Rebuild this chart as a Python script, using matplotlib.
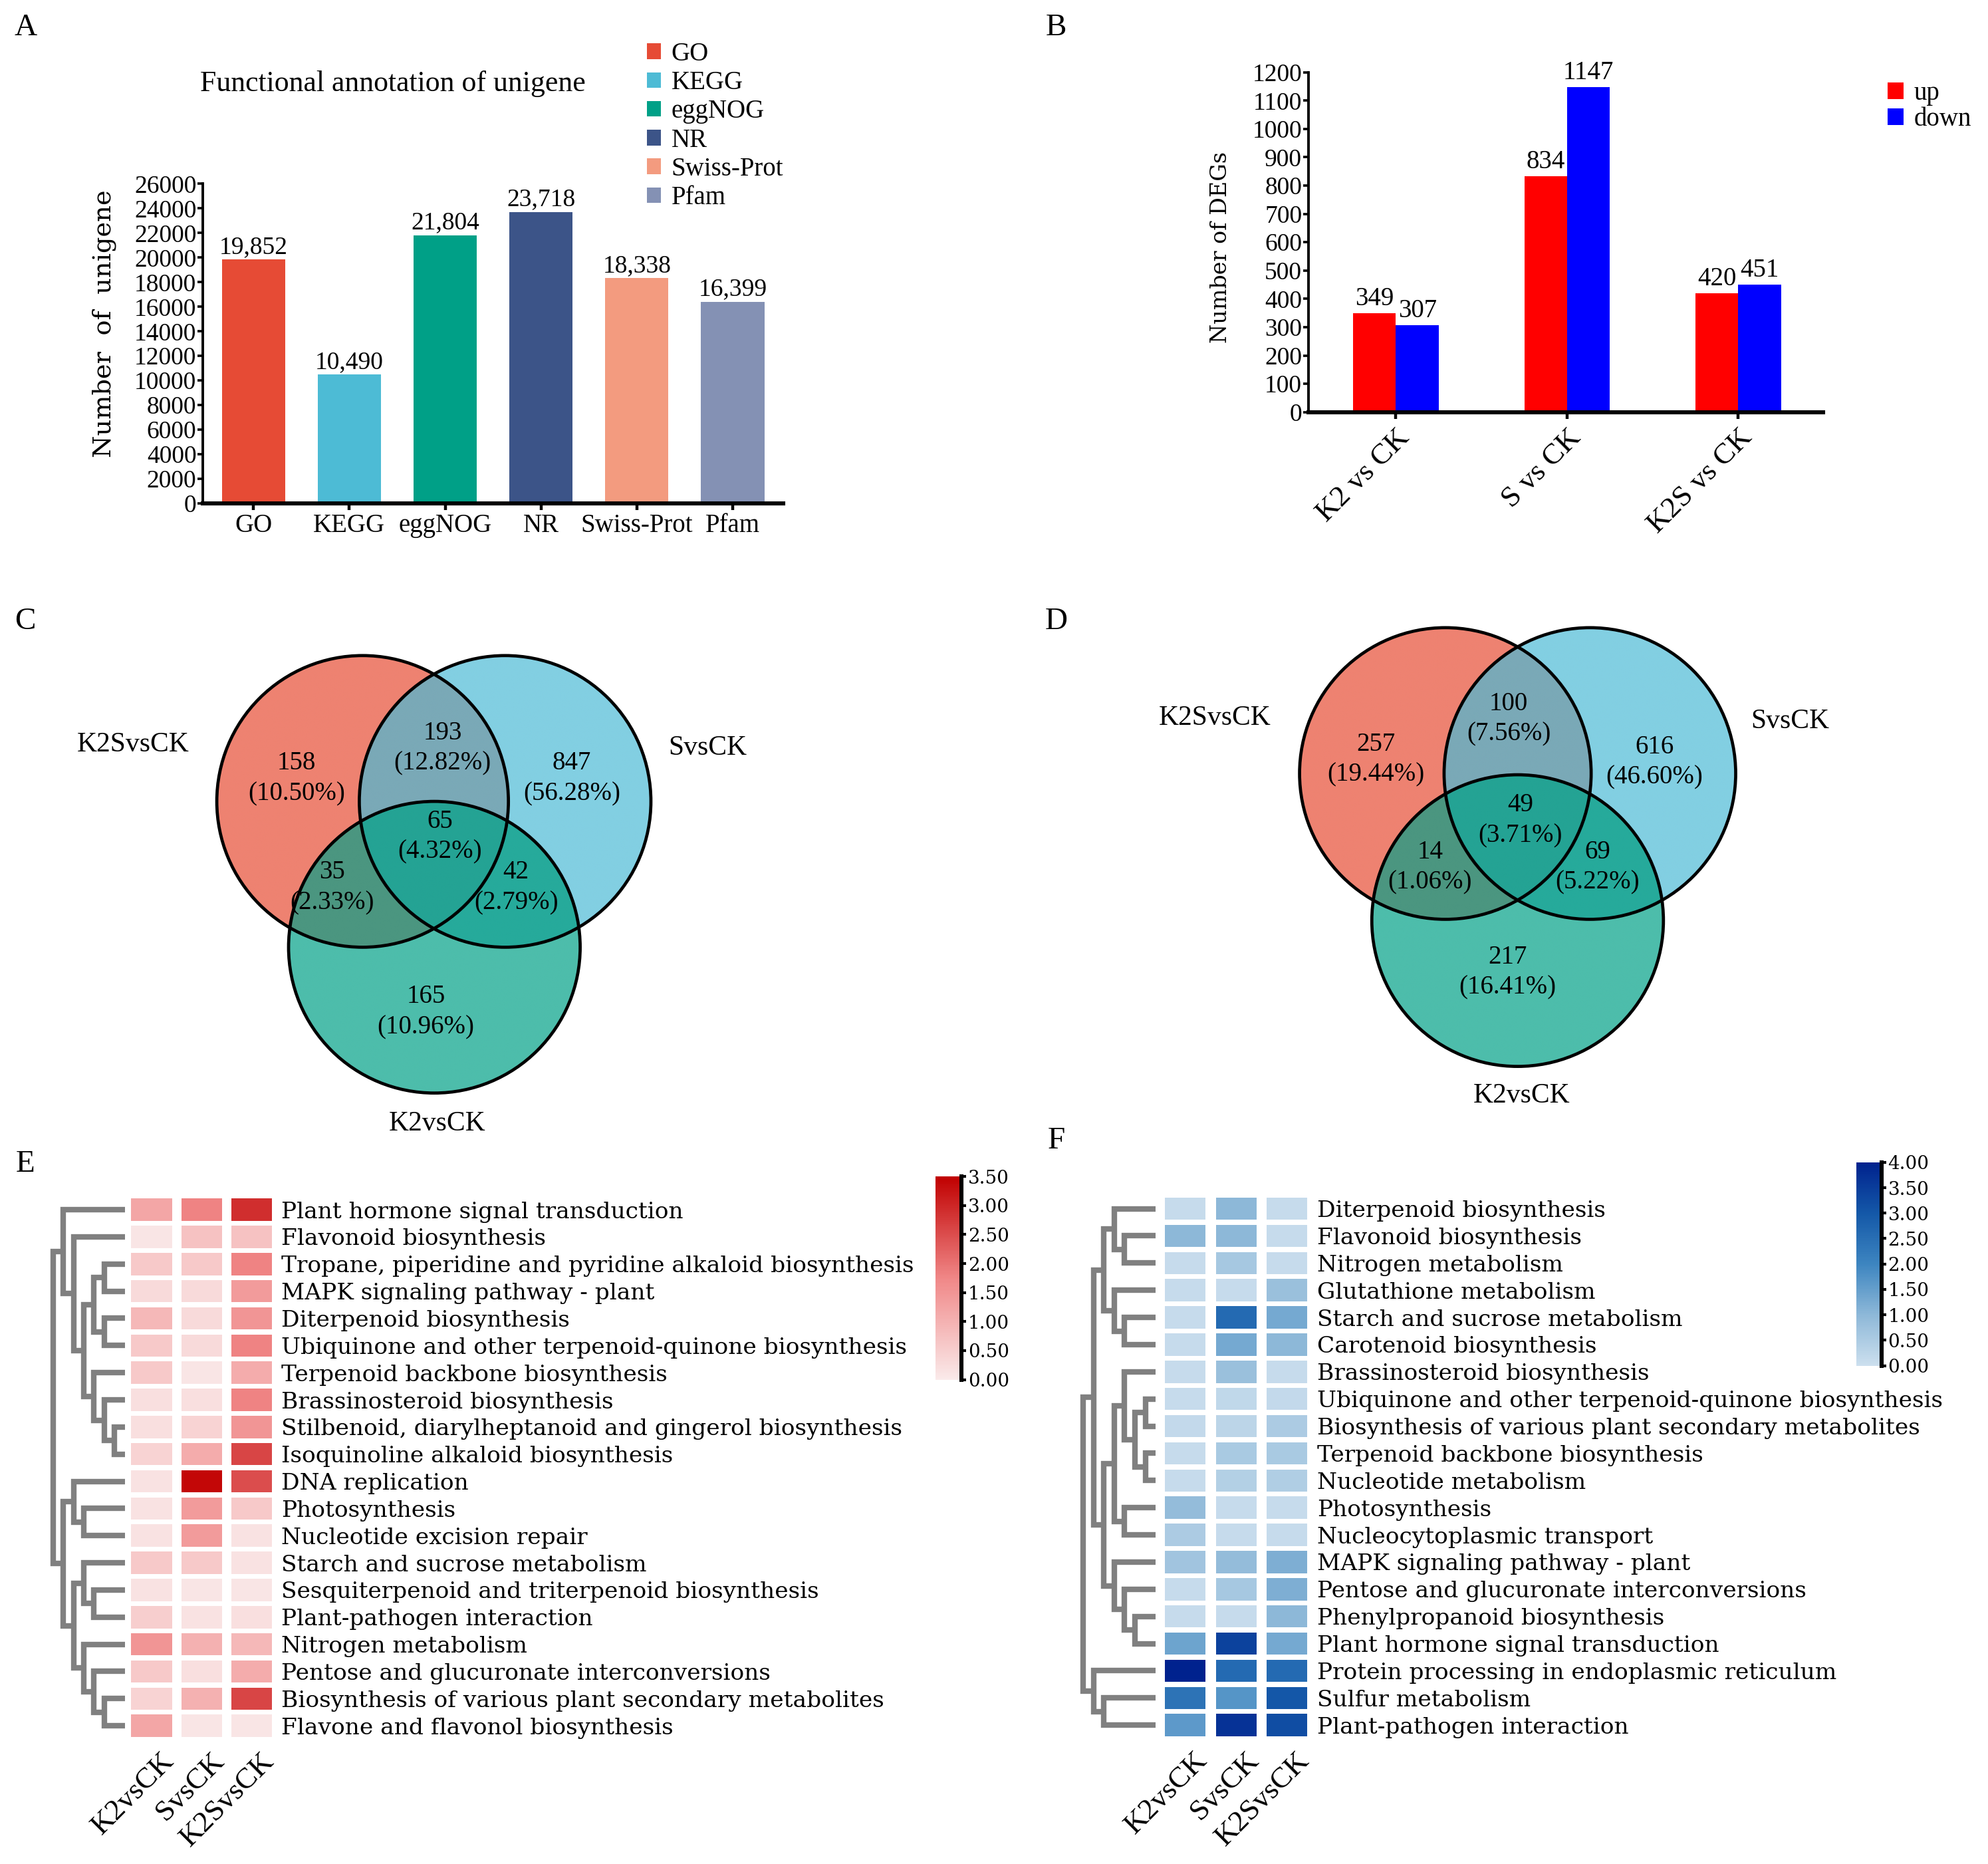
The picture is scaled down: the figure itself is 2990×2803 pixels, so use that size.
import numpy as np
import matplotlib
matplotlib.use('Agg')
import matplotlib.pyplot as plt
from matplotlib.colors import LinearSegmentedColormap, Normalize, to_rgba
from matplotlib.patches import Circle
from matplotlib.cm import ScalarMappable

plt.rcParams['font.family'] = 'Liberation Serif'
WIDE = 'DejaVu Serif'

# ---------------- data ----------------
annot_db = ['GO', 'KEGG', 'eggNOG', 'NR', 'Swiss-Prot', 'Pfam']
annot_counts = [19852, 10490, 21804, 23718, 18338, 16399]
annot_colors = ['#E64B35', '#4DBBD5', '#00A087', '#3C5488', '#F39B7F', '#8491B4']

deg_groups = ['K2 vs CK', 'S vs CK', 'K2S vs CK']
deg_up = [349, 834, 420]
deg_down = [307, 1147, 451]

venn_names = ['K2SvsCK', 'SvsCK', 'K2vsCK']
# region order: A only, B only, A&B, C only, A&C, B&C, A&B&C
venn_c = [158, 847, 193, 165, 35, 42, 65]
venn_d = [257, 616, 100, 217, 14, 69, 49]

heat_cols = ['K2vsCK', 'SvsCK', 'K2SvsCK']

e_paths = ['Plant hormone signal transduction', 'Flavonoid biosynthesis',
           'Tropane, piperidine and pyridine alkaloid biosynthesis',
           'MAPK signaling pathway - plant', 'Diterpenoid biosynthesis',
           'Ubiquinone and other terpenoid-quinone biosynthesis',
           'Terpenoid backbone biosynthesis', 'Brassinosteroid biosynthesis',
           'Stilbenoid, diarylheptanoid and gingerol biosynthesis',
           'Isoquinoline alkaloid biosynthesis', 'DNA replication', 'Photosynthesis',
           'Nucleotide excision repair', 'Starch and sucrose metabolism',
           'Sesquiterpenoid and triterpenoid biosynthesis', 'Plant-pathogen interaction',
           'Nitrogen metabolism', 'Pentose and glucuronate interconversions',
           'Biosynthesis of various plant secondary metabolites',
           'Flavone and flavonol biosynthesis']
e_k2 = [1.2, 0.1, 0.6, 0.3, 0.9, 0.6, 0.6, 0.2, 0.2, 0.4,
        0.15, 0.15, 0.15, 0.6, 0.15, 0.5, 1.5, 0.6, 0.4, 1.2]
e_s = [1.8, 0.7, 0.6, 0.3, 0.3, 0.3, 0.1, 0.2, 0.4, 1.1,
       3.4, 1.4, 1.4, 0.6, 0.1, 0.15, 1.0, 0.2, 1.0, 0.1]
e_k2s = [2.9, 0.7, 1.8, 1.4, 1.5, 1.8, 1.1, 1.8, 1.5, 2.6,
         2.5, 0.6, 0.15, 0.15, 0.1, 0.2, 0.9, 1.1, 2.6, 0.1]
# dendrogram merges (a, b, level); new node ids start at 20
e_links = [(8, 9, 1), (7, 20, 2), (6, 21, 3), (2, 3, 2), (4, 5, 2), (23, 24, 3),
           (25, 22, 4), (1, 26, 5), (0, 27, 6), (11, 12, 4), (10, 29, 5), (14, 15, 3),
           (13, 31, 4), (18, 19, 2), (17, 33, 3), (16, 34, 4), (32, 35, 5), (30, 36, 6),
           (28, 37, 7)]

f_paths = ['Diterpenoid biosynthesis', 'Flavonoid biosynthesis', 'Nitrogen metabolism',
           'Glutathione metabolism', 'Starch and sucrose metabolism',
           'Carotenoid biosynthesis', 'Brassinosteroid biosynthesis',
           'Ubiquinone and other terpenoid-quinone biosynthesis',
           'Biosynthesis of various plant secondary metabolites',
           'Terpenoid backbone biosynthesis', 'Nucleotide metabolism', 'Photosynthesis',
           'Nucleocytoplasmic transport', 'MAPK signaling pathway - plant',
           'Pentose and glucuronate interconversions', 'Phenylpropanoid biosynthesis',
           'Plant hormone signal transduction',
           'Protein processing in endoplasmic reticulum', 'Sulfur metabolism',
           'Plant-pathogen interaction']
f_k2 = [0.1, 1.0, 0.1, 0.1, 0.1, 0.1, 0.1, 0.1, 0.15, 0.1,
        0.1, 0.9, 0.5, 0.7, 0.1, 0.1, 1.4, 4.0, 2.4, 1.6]
f_s = [1.0, 1.0, 0.6, 0.1, 2.6, 1.3, 0.8, 0.2, 0.25, 0.55,
       0.4, 0.1, 0.1, 0.9, 0.6, 0.1, 3.4, 2.6, 1.7, 3.7]
f_k2s = [0.1, 0.1, 0.1, 0.8, 1.3, 1.0, 0.1, 0.15, 0.5, 0.55,
         0.45, 0.1, 0.1, 1.2, 1.2, 1.0, 1.3, 2.6, 3.0, 3.2]
f_links = [(1, 2, 3), (0, 20, 4), (4, 5, 3), (3, 22, 4), (21, 23, 5), (7, 8, 1),
           (9, 10, 1), (25, 26, 2), (6, 27, 3), (11, 12, 3), (28, 29, 4), (15, 16, 2),
           (14, 31, 3), (13, 32, 4), (30, 33, 5), (24, 34, 6), (18, 19, 5), (17, 36, 6),
           (35, 37, 7)]

# ---------------- layout helpers ----------------
W, H = 1568, 1470


def box(x0, y0, x1, y1):
    return [x0 / W, 1 - y1 / H, (x1 - x0) / W, (y1 - y0) / H]


def fx(x):
    return x / W


def fy(y):
    return 1 - y / H


fig = plt.figure(figsize=(14.95, 14.015), dpi=200)

for lab, (x, y) in zip('ABCDEF', [(20, 22), (833, 22), (20, 490), (833, 490),
                                  (20, 918), (833, 900)]):
    fig.text(fx(x), fy(y), lab, ha='center', va='center', fontsize=17)

# ---------------- A ----------------
axA = fig.add_axes(box(160, 145, 618, 397))
xa = np.arange(len(annot_db))
barsA = axA.bar(xa, annot_counts, width=0.66, color=annot_colors)
for xi, v in zip(xa, annot_counts):
    axA.annotate(f'{v:,}', (xi, v), xytext=(0, 0.5), textcoords='offset points',
                 ha='center', va='bottom', fontsize=13.5)
axA.set_xlim(-0.528, 5.53)
axA.set_ylim(0, 26000)
axA.set_yticks(np.arange(0, 26001, 2000))
axA.set_xticks(xa)
axA.set_xticklabels(annot_db)
axA.spines[['top', 'right']].set_visible(False)
axA.spines['left'].set_linewidth(1.4)
axA.spines['bottom'].set_linewidth(2.2)
axA.tick_params(axis='y', length=3, width=1.3, pad=0.5, labelsize=13.5)
axA.tick_params(axis='x', length=3.5, width=1.6, pad=2, labelsize=14)
fig.text(fx(310), fy(66), 'Functional annotation of unigene', ha='center', va='center',
         fontsize=15.8)
fig.text(fx(82), fy(255), 'Number  of  unigene', rotation=90, ha='center', va='center',
         family=WIDE, fontsize=13.8)
axA.legend(barsA, annot_db, loc='upper left', bbox_to_anchor=(fx(510), fy(33)),
           bbox_transform=fig.transFigure, frameon=False, fontsize=14,
           handlelength=0.55, handleheight=0.55, handletextpad=0.4,
           labelspacing=0.16, borderpad=0, borderaxespad=0)

# ---------------- B ----------------
axB = fig.add_axes(box(1032, 57, 1438, 325))
xb = np.arange(len(deg_groups))
bu = axB.bar(xb - 0.125, deg_up, 0.25, color='#FF0000', label='up')
bd = axB.bar(xb + 0.125, deg_down, 0.25, color='#0000FF', label='down')
for xi, v in zip(xb - 0.125, deg_up):
    axB.annotate(str(v), (xi, v), xytext=(0, 1), textcoords='offset points',
                 ha='center', va='bottom', fontsize=14)
for xi, v in zip(xb + 0.125, deg_down):
    axB.annotate(str(v), (xi, v), xytext=(0, 1), textcoords='offset points',
                 ha='center', va='bottom', fontsize=14)
axB.set_xlim(-0.511, 2.496)
axB.set_ylim(0, 1200)
axB.set_yticks(np.arange(0, 1201, 100))
axB.set_xticks(xb)
axB.set_xticklabels(deg_groups, rotation=45, ha='right', rotation_mode='anchor')
axB.spines[['top', 'right']].set_visible(False)
axB.spines['left'].set_linewidth(1.4)
axB.spines['bottom'].set_linewidth(2.2)
axB.tick_params(axis='y', length=3, width=1.3, pad=0.5, labelsize=13.5)
axB.tick_params(axis='x', length=3.5, width=1.6, pad=3, labelsize=16)
fig.text(fx(963), fy(195), 'Number of DEGs', rotation=90, ha='center', va='center',
         family=WIDE, fontsize=12)
axB.legend(loc='upper left', bbox_to_anchor=(fx(1489), fy(64)),
           bbox_transform=fig.transFigure, frameon=False, fontsize=14,
           handlelength=0.6, handleheight=0.6, handletextpad=0.4,
           labelspacing=0.05, borderpad=0, borderaxespad=0)

# ---------------- C / D venn ----------------
axV = fig.add_axes([0, 0, 1, 1])
axV.patch.set_alpha(0)
axV.axis('off')

region_colors = {1: '#EE8271', 2: '#82CFE2', 3: '#7AA9B7', 4: '#4DBDAB',
                 5: '#4B9680', 6: '#26AA9B', 7: '#24A394'}


def venn3(ax, centers, r, counts, num_pos, name_pos):
    xs0 = min(c[0] for c in centers) - r - 3
    xs1 = max(c[0] for c in centers) + r + 3
    ys0 = min(c[1] for c in centers) - r - 3
    ys1 = max(c[1] for c in centers) + r + 3
    X, Y = np.meshgrid(np.arange(xs0, xs1, 0.4), np.arange(ys0, ys1, 0.4))
    code = np.zeros(X.shape, dtype=int)
    for k, (cx, cy) in enumerate(centers):
        code += ((X - cx) ** 2 + (Y - cy) ** 2 <= r ** 2) * (1 << k)
    rgba = np.zeros(X.shape + (4,))
    for c, col in region_colors.items():
        rgba[code == c] = to_rgba(col)
    ax.imshow(rgba, extent=(xs0, xs1, ys1, ys0), origin='upper', aspect='auto',
              interpolation='antialiased')
    for cx, cy in centers:
        ax.add_patch(Circle((cx, cy), r, fill=False, ec='black', lw=1.7))
    total = sum(counts)
    for n, (px, py) in zip(counts, num_pos):
        ax.text(px, py - 12, str(n), ha='center', va='center', fontsize=14)
        ax.text(px, py + 12, f'({100 * n / total:.2f}%)', ha='center', va='center',
                fontsize=14)
    for name, (px, py) in zip(venn_names, name_pos):
        ax.text(px, py, name, ha='center', va='center', fontsize=15)


venn3(axV, [(286, 632), (398.4, 632), (342.6, 747)], 115, venn_c,
      [(234, 614), (451, 614), (349, 590), (336, 798), (262, 700), (407, 700), (347, 660)],
      [(105, 587), (558, 590), (345, 886)])
venn3(axV, [(1140, 610), (1254, 610), (1197, 726)], 115, venn_d,
      [(1085, 599), (1305, 601), (1190, 567), (1189, 767), (1128, 684), (1260, 684), (1199, 647)],
      [(958, 566), (1412, 569), (1200, 864)])
axV.set_xlim(0, W)
axV.set_ylim(H, 0)


# ---------------- E / F heatmaps ----------------
def dendro(ax, links, n):
    pos = {i: float(i) for i in range(n)}
    hgt = {i: 0.0 for i in range(n)}
    for k, (a, b, h) in enumerate(links):
        ax.plot([hgt[a], h, h, hgt[b]], [pos[a], pos[a], pos[b], pos[b]],
                color='#808080', lw=3.0, solid_capstyle='butt', solid_joinstyle='miter')
        pos[n + k] = (pos[a] + pos[b]) / 2
        hgt[n + k] = h
    ax.set_xlim(7.4, 0)
    ax.set_ylim(n - 0.5, -0.5)
    ax.axis('off')


def heatmap(hbox, dbox, cbox, cols, paths, links, cmap, vmax, cw):
    norm = Normalize(0, vmax)
    ax = fig.add_axes(box(*hbox))
    rows = np.arange(len(paths))
    for j, vals in enumerate(cols):
        ax.barh(rows, cw, left=j - cw / 2, height=0.82, color=cmap(norm(np.array(vals))))
    ax.set_xlim(-0.5, 2.5)
    ax.set_ylim(len(paths) - 0.5, -0.5)
    for s in ax.spines.values():
        s.set_visible(False)
    ax.yaxis.tick_right()
    ax.set_yticks(rows)
    ax.set_yticklabels(paths, family=WIDE, fontsize=12.4)
    ax.tick_params(axis='y', length=0, pad=2.5)
    ax.set_xticks([])
    for j, name in enumerate(heat_cols):
        ax.text(j + 0.17, len(paths) - 0.5 + 0.3, name, rotation=45, ha='right', va='top',
                rotation_mode='anchor', fontsize=16)
    dax = fig.add_axes(box(*dbox))
    dendro(dax, links, len(paths))
    cax = fig.add_axes(box(*cbox))
    cb = fig.colorbar(ScalarMappable(norm=norm, cmap=cmap), cax=cax,
                      ticks=np.arange(0, vmax + 0.01, 0.5))
    cb.outline.set_visible(False)
    cax.spines['right'].set_visible(True)
    cax.spines['right'].set_linewidth(2.2)
    cax.tick_params(length=2.5, width=1.5, labelsize=10, pad=1)
    cax.yaxis.set_major_formatter('{x:.2f}')
    for t in cax.get_yticklabels():
        t.set_family(WIDE)


cmap_red = LinearSegmentedColormap.from_list(
    'red', [(0, '#FAEAEA'), (0.5, '#F08787'), (1, '#C00000')])
cmap_blue = LinearSegmentedColormap.from_list(
    'blue', [(0, '#CCDFEE'), (0.25, '#8DB8D8'), (0.5, '#3D85C0'), (0.75, '#1458A8'),
             (1, '#00228E')])

heatmap((99.85, 943.3, 218.2, 1371.7), (98.5 - 7.4 * 8.1, 943.3, 98.5, 1371.7),
        (737.8, 927.8, 758.4, 1088), [e_k2, e_s, e_k2s], e_paths, e_links,
        cmap_red, 3.5, 0.816)
heatmap((914.6, 942.5, 1035.2, 1371.2), (911.6 - 7.4 * 8.2, 942.5, 911.6, 1371.2),
        (1464, 916.6, 1484, 1077), [f_k2, f_s, f_k2s], f_paths, f_links,
        cmap_blue, 4.0, 0.796)

fig.savefig('out.png', dpi=200)
